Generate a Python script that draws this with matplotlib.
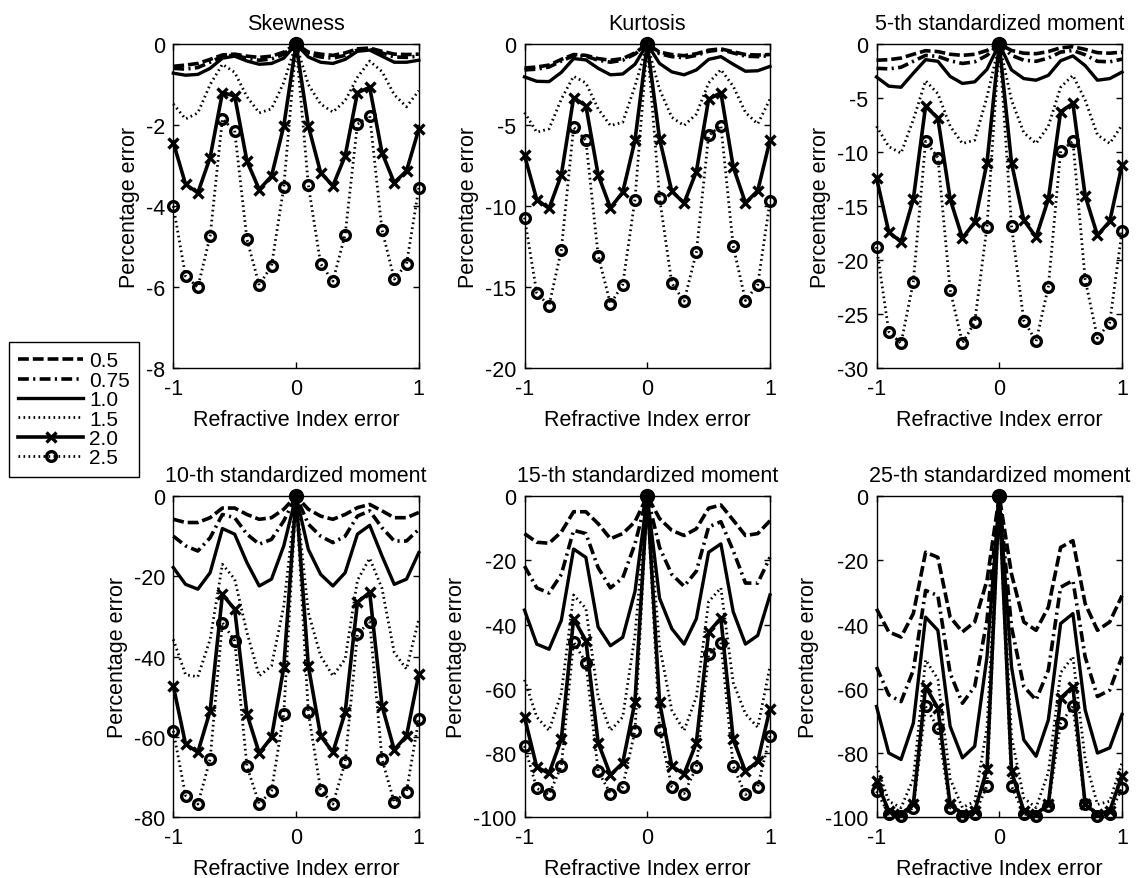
import matplotlib
matplotlib.use("Agg")
import matplotlib.pyplot as plt
from matplotlib.lines import Line2D

plt.rcParams['font.family'] = ['Liberation Sans', 'DejaVu Sans']
plt.rcParams['font.size'] = 15.5

# Refractive index error grid
x = [-1.0, -0.9, -0.8, -0.7, -0.6, -0.5, -0.4, -0.3, -0.2, -0.1, 0.0,
     0.1, 0.2, 0.3, 0.4, 0.5, 0.6, 0.7, 0.8, 0.9, 1.0]

series_labels = ['0.5', '0.75', '1.0', '1.5', '2.0', '2.5']

panel_titles = ['Skewness', 'Kurtosis', '5-th standardized moment',
                '10-th standardized moment', '15-th standardized moment',
                '25-th standardized moment']
y_bottoms = [-8, -20, -30, -80, -100, -100]
y_steps = [2, 5, 5, 20, 20, 20]

# Skewness
skew_05 = [-0.55, -0.52, -0.48, -0.38, -0.27, -0.25, -0.30, -0.33, -0.30, -0.20, 0,
           -0.20, -0.25, -0.28, -0.22, -0.12, -0.10, -0.18, -0.25, -0.26, -0.25]
skew_075 = [-0.60, -0.62, -0.58, -0.45, -0.30, -0.28, -0.35, -0.40, -0.37, -0.25, 0,
            -0.25, -0.32, -0.35, -0.28, -0.15, -0.13, -0.22, -0.32, -0.33, -0.30]
skew_10 = [-0.72, -0.77, -0.75, -0.60, -0.35, -0.30, -0.42, -0.50, -0.48, -0.35, 0,
           -0.32, -0.45, -0.48, -0.38, -0.18, -0.15, -0.30, -0.45, -0.45, -0.40]
skew_15 = [-1.48, -1.85, -1.70, -1.00, -0.50, -0.70, -1.30, -1.70, -1.60, -0.95, 0,
           -1.00, -1.48, -1.68, -1.40, -0.82, -0.42, -0.68, -1.25, -1.55, -1.15]
skew_20 = [-2.43, -3.46, -3.67, -2.80, -1.20, -1.28, -2.89, -3.59, -3.26, -2.02, 0,
           -2.02, -3.17, -3.50, -2.76, -1.20, -1.07, -2.68, -3.42, -3.13, -2.10]
skew_25 = [-4.00, -5.73, -6.00, -4.74, -1.85, -2.14, -4.82, -5.95, -5.47, -3.53, 0,
           -3.48, -5.42, -5.85, -4.70, -1.98, -1.77, -4.58, -5.80, -5.43, -3.55]

# Kurtosis
kurt_05 = [-1.48, -1.42, -1.30, -0.95, -0.65, -0.70, -0.90, -1.00, -0.90, -0.55, 0,
           -0.50, -0.65, -0.72, -0.60, -0.38, -0.30, -0.48, -0.65, -0.68, -0.65]
kurt_075 = [-1.60, -1.55, -1.42, -1.05, -0.72, -0.75, -1.00, -1.12, -1.00, -0.62, 0,
            -0.60, -0.78, -0.85, -0.70, -0.45, -0.35, -0.55, -0.75, -0.78, -0.72]
kurt_10 = [-2.03, -2.30, -2.32, -1.75, -0.90, -0.98, -1.50, -1.90, -1.85, -1.25, 0,
           -1.20, -1.72, -1.90, -1.60, -0.95, -0.78, -1.25, -1.68, -1.65, -1.38]
kurt_15 = [-4.22, -5.44, -5.23, -3.40, -1.99, -2.40, -4.00, -5.03, -4.83, -2.60, 0,
           -2.80, -4.52, -5.03, -4.32, -2.40, -1.58, -2.60, -4.22, -4.93, -3.40]
kurt_20 = [-6.86, -9.60, -10.14, -8.07, -3.31, -3.81, -8.07, -10.10, -9.15, -5.94, 0,
           -5.84, -9.09, -9.80, -7.87, -3.41, -3.00, -7.57, -9.80, -9.05, -5.94]
kurt_25 = [-10.71, -15.37, -16.13, -12.70, -5.13, -5.94, -13.05, -16.03, -14.84, -9.59, 0,
           -9.49, -14.75, -15.86, -12.85, -5.64, -5.03, -12.45, -15.82, -14.84, -9.70]

# 5-th standardized moment
m5_05 = [-1.50, -1.45, -1.30, -0.95, -0.62, -0.70, -0.95, -1.05, -0.95, -0.60, 0,
         -0.60, -0.85, -0.90, -0.70, -0.35, -0.25, -0.50, -0.80, -0.85, -0.75]
m5_075 = [-2.25, -2.30, -2.15, -1.60, -1.05, -1.15, -1.55, -1.80, -1.65, -1.05, 0,
          -1.05, -1.50, -1.60, -1.30, -0.75, -0.60, -1.00, -1.60, -1.65, -1.40]
m5_10 = [-3.05, -3.90, -4.00, -2.70, -1.45, -1.60, -3.00, -3.65, -3.50, -2.35, 0,
         -2.40, -3.20, -3.35, -2.90, -1.55, -1.10, -2.00, -3.35, -3.20, -2.60]
m5_15 = [-7.60, -9.50, -10.10, -7.00, -3.40, -4.60, -7.60, -9.20, -8.90, -4.90, 0,
         -5.20, -8.20, -9.20, -7.60, -4.00, -2.90, -5.20, -8.40, -9.20, -7.50]
m5_20 = [-12.37, -17.40, -18.30, -14.35, -5.74, -6.87, -14.35, -17.95, -16.50, -11.00, 0,
         -11.00, -16.30, -17.86, -14.35, -6.26, -5.50, -14.05, -17.70, -16.40, -11.20]
m5_25 = [-18.78, -26.60, -27.70, -22.00, -9.00, -10.50, -22.76, -27.67, -25.74, -16.90, 0,
         -16.85, -25.58, -27.50, -22.45, -9.92, -9.00, -21.80, -27.20, -25.77, -17.30]

# 10-th standardized moment
m10_05 = [-5.8, -6.6, -6.6, -5.4, -3.0, -3.0, -4.6, -5.8, -5.4, -3.3, 0,
          -3.3, -5.0, -5.8, -4.6, -2.9, -2.1, -3.7, -5.4, -5.4, -4.1]
m10_075 = [-10.0, -12.4, -13.7, -10.4, -4.6, -5.4, -9.5, -12.0, -10.8, -6.2, 0,
           -7.0, -10.0, -11.6, -10.0, -5.0, -3.7, -7.9, -11.2, -11.2, -8.3]
m10_10 = [-17.8, -22.0, -23.2, -19.1, -8.1, -9.5, -16.6, -22.4, -20.7, -12.4, 0,
          -13.3, -19.5, -22.4, -19.1, -9.5, -7.3, -14.9, -22.0, -20.7, -14.1]
m10_15 = [-35.7, -44.5, -45.0, -35.7, -17.0, -20.7, -34.0, -44.8, -42.3, -27.4, 0,
          -29.0, -39.8, -44.8, -40.6, -21.0, -15.5, -23.0, -39.0, -43.1, -30.7]
m10_20 = [-47.3, -61.8, -63.8, -53.5, -24.5, -28.2, -54.3, -64.0, -60.1, -42.7, 0,
          -42.3, -59.7, -63.8, -53.9, -26.5, -24.0, -52.2, -63.2, -59.7, -44.4]
m10_25 = [-58.5, -74.6, -76.7, -65.5, -31.5, -36.1, -67.3, -76.7, -73.4, -54.3, 0,
          -53.9, -73.1, -76.7, -66.3, -34.4, -31.3, -65.5, -76.3, -73.6, -55.5]

# 15-th standardized moment
m15_05 = [-11.7, -14.4, -14.7, -11.2, -4.9, -4.9, -8.6, -13.3, -11.7, -8.0, 0,
          -7.0, -10.7, -12.3, -10.2, -3.8, -2.8, -7.5, -12.3, -11.7, -7.7]
m15_075 = [-21.8, -28.6, -30.2, -24.4, -10.7, -11.7, -22.3, -28.6, -25.5, -14.9, 0,
           -16.0, -24.4, -28.1, -23.4, -9.6, -8.0, -17.0, -27.1, -27.1, -19.1]
m15_10 = [-35.5, -46.1, -47.7, -38.7, -16.5, -19.1, -40.8, -46.6, -44.0, -29.7, 0,
          -31.8, -41.3, -46.1, -38.2, -17.5, -14.9, -36.0, -46.1, -43.4, -30.8]
m15_15 = [-57.2, -68.8, -73.0, -61.4, -30.8, -35.0, -62.5, -73.0, -68.8, -43.4, 0,
          -46.6, -66.7, -73.0, -62.5, -32.9, -28.6, -58.0, -67.8, -72.0, -53.0]
m15_20 = [-68.8, -84.4, -86.3, -75.7, -38.2, -45.0, -76.8, -86.8, -83.1, -64.1, 0,
          -64.1, -84.1, -86.5, -76.8, -42.4, -38.0, -75.7, -85.7, -82.6, -66.2]
m15_25 = [-77.8, -91.0, -92.9, -84.1, -45.4, -51.9, -85.7, -92.6, -90.5, -73.0, 0,
          -72.8, -90.5, -92.6, -84.5, -49.3, -45.6, -84.1, -92.9, -90.5, -74.6]

# 25-th standardized moment
m25_05 = [-35.1, -42.3, -43.9, -36.6, -17.5, -19.1, -37.7, -42.3, -39.2, -26.3, 0,
          -24.3, -39.2, -41.8, -34.6, -16.0, -13.9, -33.5, -41.8, -39.2, -31.0]
m25_075 = [-53.2, -61.9, -64.0, -54.2, -29.4, -31.0, -55.2, -64.5, -59.3, -38.7, 0,
           -40.8, -59.3, -63.5, -54.2, -28.4, -26.3, -50.1, -62.4, -60.4, -50.0]
m25_10 = [-65.5, -80.0, -82.0, -70.7, -37.7, -41.8, -71.7, -81.5, -77.9, -50.1, 0,
          -53.2, -75.9, -81.0, -69.7, -39.7, -36.6, -66.6, -80.0, -78.4, -68.0]
m25_15 = [-84.0, -95.0, -97.0, -88.0, -51.0, -57.0, -88.0, -97.0, -95.0, -72.0, 0,
          -75.0, -94.0, -97.0, -86.0, -55.0, -50.0, -82.0, -96.0, -95.0, -83.0]
m25_20 = [-88.8, -98.0, -99.0, -96.0, -59.3, -66.0, -96.0, -99.0, -98.0, -85.1, 0,
          -85.7, -98.0, -99.0, -96.0, -62.9, -59.3, -96.0, -99.0, -98.0, -87.0]
m25_25 = [-91.9, -99.0, -99.5, -97.0, -65.5, -72.2, -97.0, -99.5, -99.0, -90.3, 0,
          -90.3, -99.0, -99.5, -96.5, -70.7, -65.5, -96.0, -99.5, -99.0, -91.0]

panels = [
    [skew_05, skew_075, skew_10, skew_15, skew_20, skew_25],
    [kurt_05, kurt_075, kurt_10, kurt_15, kurt_20, kurt_25],
    [m5_05, m5_075, m5_10, m5_15, m5_20, m5_25],
    [m10_05, m10_075, m10_10, m10_15, m10_20, m10_25],
    [m15_05, m15_075, m15_10, m15_15, m15_20, m15_25],
    [m25_05, m25_075, m25_10, m25_15, m25_20, m25_25],
]

# Line styles for each curve
styles = [
    dict(linestyle=(0, (3.0, 1.1)), linewidth=2.6),
    dict(linestyle=(0, (3.0, 1.2, 0.6, 1.2)), linewidth=2.6),
    dict(linestyle='-', linewidth=2.4),
    dict(linestyle=(0, (0.6, 1.2)), linewidth=2.0),
    dict(linestyle='-', linewidth=2.6, marker='x', markersize=7, markeredgewidth=2.4),
    dict(linestyle=(0, (0.6, 1.2)), linewidth=2.0, marker='o', markersize=7,
         markeredgewidth=2.4, markerfacecolor='none'),
]

fig = plt.figure(figsize=(11.37, 8.79), dpi=100)
W, H = 1137.0, 879.0
col_left = [173.3, 524.5, 876.5]
col_width = 245.5
row_top = [45.0, 497.0]
row_bottom = [369.3, 818.3]

zero_idx = x.index(0.0)

for i in range(6):
    r, c = divmod(i, 3)
    left = col_left[c] / W
    bottom = 1 - row_bottom[r] / H
    height = (row_bottom[r] - row_top[r]) / H
    ax = fig.add_axes([left, bottom, col_width / W, height])
    for ys, st in zip(panels[i], styles):
        ax.plot(x, ys, color='black', clip_on=False, **st)
    # all curves meet at zero error: mark the common point solidly
    last = panels[i][-1]
    ax.plot([x[zero_idx]], [last[zero_idx]], 'o', color='black', markersize=10,
            clip_on=False, zorder=5)
    ax.set_xlim(-1, 1)
    ax.set_ylim(y_bottoms[i], 0)
    ax.set_xticks([-1, 0, 1])
    ax.set_xticklabels(['-1', '0', '1'])
    yt = list(range(0, y_bottoms[i] - 1, -y_steps[i]))
    ax.set_yticks(yt)
    ax.set_yticklabels([str(v) for v in yt])
    ax.tick_params(direction='in', top=True, right=True, length=4, width=1,
                   labelsize=15.5)
    ax.tick_params(axis='x', pad=7)
    ax.tick_params(axis='y', pad=6)
    for sp in ax.spines.values():
        sp.set_linewidth(1.0)
    ax.set_title(panel_titles[i], fontsize=15.5, pad=11)
    ax.set_xlabel('Refractive Index error', fontsize=15.5, labelpad=7)
    ax.set_ylabel('Percentage error', fontsize=15.5, labelpad=4)

handles = [Line2D([], [], color='black', **st) for st in styles]
leg = fig.legend(handles, series_labels, loc='upper left',
                 bbox_to_anchor=(9 / W, 1 - 343 / H), bbox_transform=fig.transFigure,
                 borderaxespad=0, fancybox=False, edgecolor='black', framealpha=1,
                 fontsize=15, handlelength=3.1, handletextpad=0.3,
                 labelspacing=0.02, borderpad=0.45, numpoints=1)
leg.get_frame().set_linewidth(1.0)

fig.savefig('out.png', dpi=100)
